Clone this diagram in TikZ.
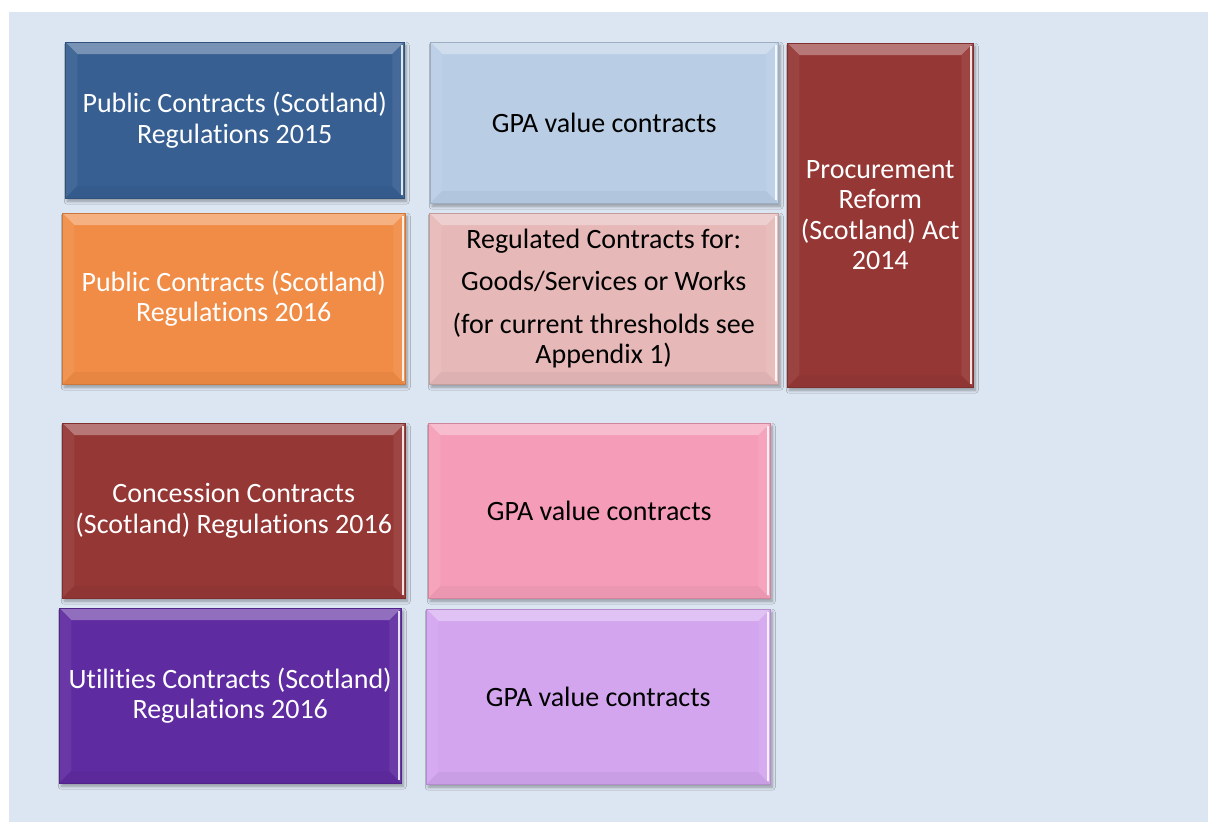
\documentclass[tikz,border=0pt]{standalone}
\usepackage{fontspec}
\setmainfont[Ligatures=NoCommon]{Carlito}
\usetikzlibrary{shadows.blur}
\definecolor{panel}{HTML}{DCE6F2}
\definecolor{cblue}{HTML}{375F92}
\definecolor{clblue}{HTML}{B9CDE5}
\definecolor{cred}{HTML}{953735}
\definecolor{corange}{HTML}{F08C46}
\definecolor{crose}{HTML}{E6B9B8}
\definecolor{cpink}{HTML}{F59DB8}
\definecolor{cpurple}{HTML}{5F2BA0}
\definecolor{clilac}{HTML}{D3A5EF}
\tikzset{
  box/.style={rectangle, inner sep=0pt, anchor=north west, align=center,
    font=\fontsize{28}{30.5}\selectfont,
    blur shadow={shadow xshift=2pt, shadow yshift=-3pt, shadow blur radius=3pt, shadow opacity=35},
    fill=#1, draw=#1!85!black, line width=0.5pt,
    path picture={
      \fill[#1!68!white] (path picture bounding box.north west) -- (path picture bounding box.north east)
        -- ([shift={(-12pt,-12pt)}]path picture bounding box.north east)
        -- ([shift={(12pt,-12pt)}]path picture bounding box.north west) -- cycle;
      \fill[#1!94!white] (path picture bounding box.north west) -- ([shift={(12pt,-12pt)}]path picture bounding box.north west)
        -- ([shift={(12pt,12pt)}]path picture bounding box.south west) -- (path picture bounding box.south west) -- cycle;
      \fill[#1!96!black] (path picture bounding box.south west) -- ([shift={(12pt,12pt)}]path picture bounding box.south west)
        -- ([shift={(-12pt,12pt)}]path picture bounding box.south east) -- (path picture bounding box.south east) -- cycle;
      \fill[#1!93!white] (path picture bounding box.north east) -- ([shift={(-12pt,-12pt)}]path picture bounding box.north east)
        -- ([shift={(-12pt,12pt)}]path picture bounding box.south east) -- (path picture bounding box.south east) -- cycle;
      \fill[white, opacity=0.85] ([shift={(-3.5pt,-3pt)}]path picture bounding box.north east) rectangle ([shift={(-1pt,3pt)}]path picture bounding box.south east);
    }},
  light/.style={text=black},
  dark/.style={text=white}
}
\begin{document}
\begin{tikzpicture}[x=1pt,y=1pt]
\useasboundingbox (0,0) rectangle (1208,822);
\fill[white] (0,0) rectangle (1208,822);
\fill[panel] (9,0) rectangle (1208,810);
\node[box=cblue, dark, minimum width=339pt, minimum height=156pt] (b1) at (65,780)
  {Public Contracts (Scotland)\\Regulations 2015};
\node[box=clblue, light, minimum width=348pt, minimum height=161pt] (g1) at (430,780)
  {GPA value contracts};
\node[box=cred, dark, minimum width=186pt, minimum height=344pt] (prs) at (787,779)
  {Procurement\\Reform\\(Scotland) Act\\2014};
\node[box=corange, dark, minimum width=343pt, minimum height=171pt] (b2) at (62,609)
  {Public Contracts (Scotland)\\Regulations 2016};
\node[box=crose, light, minimum width=349pt, minimum height=171pt] (reg) at (429,609)
  {Regulated Contracts for:\\[12pt]Goods/Services or Works\\[12pt](for current thresholds see\\Appendix 1)};
\node[box=cred, dark, minimum width=343pt, minimum height=175pt] (con) at (62,399)
  {Concession Contracts\\(Scotland) Regulations 2016};
\node[box=cpink, light, minimum width=342pt, minimum height=175pt] (g2) at (428,399)
  {GPA value contracts};
\node[box=cpurple, dark, minimum width=342pt, minimum height=175pt] (util) at (59,214)
  {Utilities Contracts (Scotland)\\Regulations 2016};
\node[box=clilac, light, minimum width=344pt, minimum height=175pt] (g3) at (426,213)
  {GPA value contracts};
\end{tikzpicture}
\end{document}
